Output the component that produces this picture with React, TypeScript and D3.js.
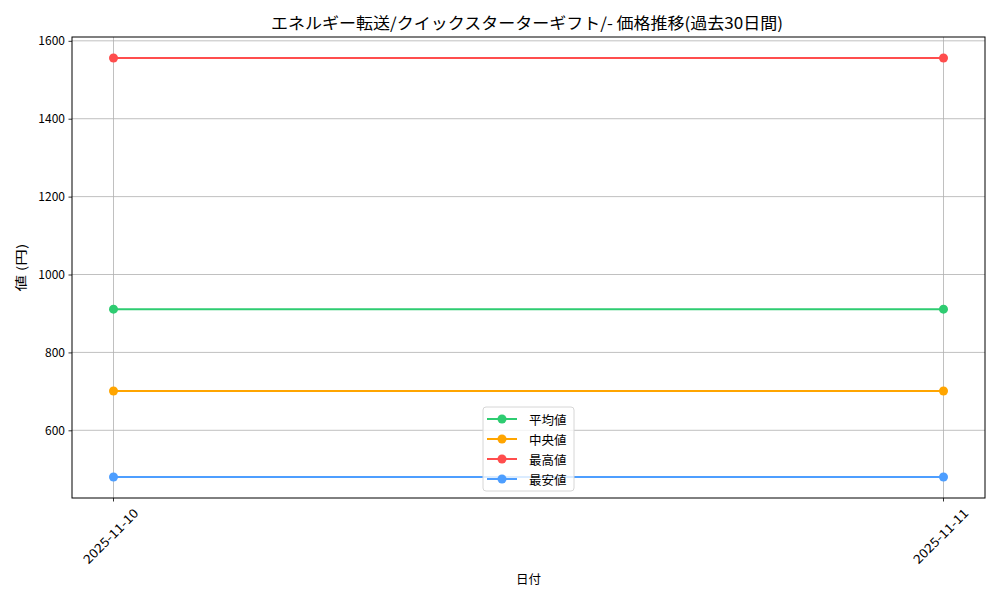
import React, { useEffect, useRef } from 'react';
import * as d3 from 'd3';

const dates = ['2025-11-10', '2025-11-11'];
const avgValues = [911, 911];
const medianValues = [701, 701];
const maxValues = [1556, 1556];
const minValues = [480, 480];
const yTicks = [600, 800, 1000, 1200, 1400, 1600];

const seriesNames = ['平均値', '中央値', '最高値', '最安値'];
const seriesColors = ['#2ecc71', '#ffa500', '#ff4d4d', '#4d9eff'];

const FONT = '"Noto Sans CJK JP", "Noto Sans", sans-serif';

const App: React.FC = () => {
  const chartRef = useRef<SVGSVGElement | null>(null);

  useEffect(() => {
    if (!chartRef.current) return;
    const svg = d3.select(chartRef.current);
    svg.selectAll('*').remove();

    const margin = { top: 37, right: 15, bottom: 102, left: 72 };
    const width = 1000 - margin.left - margin.right;
    const height = 600 - margin.top - margin.bottom;

    const series = [avgValues, medianValues, maxValues, minValues].map((values, i) => ({
      name: seriesNames[i],
      color: seriesColors[i],
      values,
    }));

    const allValues = series.flatMap(s => s.values);
    const [lo, hi] = d3.extent(allValues) as [number, number];
    const pad = (hi - lo) * 0.05;

    // matplotlib-like 5% margins on the category index
    const xLin = d3.scaleLinear().domain([-0.05, 1.05]).range([0, width]);
    const xPos = (d: string) => xLin(dates.indexOf(d));

    const y = d3.scaleLinear().domain([lo - pad, hi + pad]).range([height, 0]);

    const g = svg.append('g').attr('transform', `translate(${margin.left},${margin.top})`);

    // grid
    g.append('g')
      .selectAll('line')
      .data(yTicks)
      .join('line')
      .attr('x1', 0)
      .attr('x2', width)
      .attr('y1', d => y(d))
      .attr('y2', d => y(d))
      .attr('stroke', '#b0b0b0')
      .attr('stroke-width', 0.8);

    g.append('g')
      .selectAll('line')
      .data(dates)
      .join('line')
      .attr('x1', d => xPos(d))
      .attr('x2', d => xPos(d))
      .attr('y1', 0)
      .attr('y2', height)
      .attr('stroke', '#b0b0b0')
      .attr('stroke-width', 0.8);

    // y axis
    const yAxis = g.append('g')
      .call(d3.axisLeft(y).tickValues(yTicks).tickSize(3.5).tickPadding(3.5).tickFormat(d3.format('d')));
    yAxis.select('.domain').remove();
    yAxis.selectAll('text').attr('font-family', FONT).attr('font-size', 12).attr('fill', '#000');
    yAxis.selectAll('line').attr('stroke', '#000').attr('stroke-width', 0.8);

    // x axis ticks
    const xAxis = g.append('g').attr('transform', `translate(0,${height})`);
    xAxis.selectAll('line')
      .data(dates)
      .join('line')
      .attr('x1', d => xPos(d))
      .attr('x2', d => xPos(d))
      .attr('y1', 0)
      .attr('y2', 3.5)
      .attr('stroke', '#000')
      .attr('stroke-width', 0.8);
    xAxis.selectAll('text')
      .data(dates)
      .join('text')
      .attr('transform', d => `translate(${xPos(d) - 2},${39}) rotate(-45)`)
      .attr('text-anchor', 'middle')
      .attr('dominant-baseline', 'middle')
      .attr('font-family', FONT)
      .attr('font-size', 12.5)
      .attr('textLength', 72)
      .attr('lengthAdjust', 'spacingAndGlyphs')
      .attr('fill', '#000')
      .text(d => d);

    // lines
    const line = d3.line<number>()
      .x((_, i) => xPos(dates[i]))
      .y(d => y(d));

    series.forEach(s => {
      g.append('path')
        .datum(s.values)
        .attr('fill', 'none')
        .attr('stroke', s.color)
        .attr('stroke-width', 2)
        .attr('d', line);
      g.append('g')
        .selectAll('circle')
        .data(s.values)
        .join('circle')
        .attr('cx', (_, i) => xPos(dates[i]))
        .attr('cy', d => y(d))
        .attr('r', 4.5)
        .attr('fill', s.color);
    });

    // frame
    g.append('rect')
      .attr('width', width)
      .attr('height', height)
      .attr('fill', 'none')
      .attr('stroke', '#000')
      .attr('stroke-width', 1);

    // legend
    const legend = g.append('g').attr('transform', `translate(${483 - margin.left},${407 - margin.top})`);
    legend.append('rect')
      .attr('width', 91)
      .attr('height', 84)
      .attr('rx', 3)
      .attr('fill', 'rgba(255,255,255,0.8)')
      .attr('stroke', '#d6d6d6')
      .attr('stroke-width', 1);
    series.forEach((s, i) => {
      const ly = 12 + i * 20;
      legend.append('line')
        .attr('x1', 4).attr('x2', 34)
        .attr('y1', ly).attr('y2', ly)
        .attr('stroke', s.color).attr('stroke-width', 2);
      legend.append('circle')
        .attr('cx', 19).attr('cy', ly).attr('r', 4.5).attr('fill', s.color);
      legend.append('text')
        .attr('x', 46).attr('y', ly)
        .attr('dominant-baseline', 'central')
        .attr('font-family', FONT).attr('font-size', 12.5).attr('fill', '#000')
        .text(s.name);
    });

    // titles
    svg.append('text')
      .attr('x', 527)
      .attr('y', 22)
      .attr('text-anchor', 'middle')
      .attr('dominant-baseline', 'central')
      .attr('font-family', FONT)
      .attr('font-size', 16)
      .attr('textLength', 512)
      .attr('lengthAdjust', 'spacingAndGlyphs')
      .attr('fill', '#000')
      .text('エネルギー転送/クイックスターターギフト/- 価格推移(過去30日間)');

    svg.append('text')
      .attr('x', margin.left + width / 2)
      .attr('y', 578)
      .attr('text-anchor', 'middle')
      .attr('dominant-baseline', 'central')
      .attr('font-family', FONT)
      .attr('font-size', 12.5)
      .attr('fill', '#000')
      .text('日付');

    svg.append('text')
      .attr('transform', `translate(20,${margin.top + height / 2}) rotate(-90)`)
      .attr('text-anchor', 'middle')
      .attr('dominant-baseline', 'central')
      .attr('font-family', FONT)
      .attr('font-size', 12.5)
      .attr('textLength', 48)
      .attr('lengthAdjust', 'spacingAndGlyphs')
      .attr('fill', '#000')
      .text('値 (円)');
  }, []);

  return (
    <svg
      ref={chartRef}
      width={1000}
      height={600}
      style={{ position: 'absolute', left: 0, top: 0, background: '#fff' }}
    />
  );
};

export default App;
